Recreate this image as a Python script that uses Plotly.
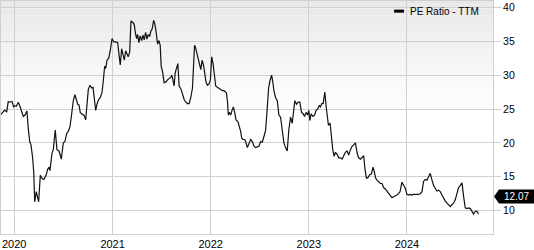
import plotly.graph_objects as go
from datetime import datetime, timedelta
import calendar

# ---- data (fractional year, PE ratio) ----
years_2019_2020 = [2019.865, 2019.882, 2019.899, 2019.923, 2019.939, 2019.957, 2019.977, 2019.994,
                   2020.007, 2020.021, 2020.041, 2020.058, 2020.076, 2020.092, 2020.109, 2020.129,
                   2020.143, 2020.157, 2020.170, 2020.187, 2020.198, 2020.208, 2020.224, 2020.248,
                   2020.265, 2020.285, 2020.302, 2020.323, 2020.340, 2020.353, 2020.363, 2020.373,
                   2020.384, 2020.397, 2020.417, 2020.434, 2020.455, 2020.478, 2020.499, 2020.516,
                   2020.533, 2020.549, 2020.567, 2020.584, 2020.600, 2020.617, 2020.631, 2020.645,
                   2020.658, 2020.671, 2020.692, 2020.709, 2020.726, 2020.739, 2020.753, 2020.770,
                   2020.787, 2020.801, 2020.814, 2020.828, 2020.841, 2020.858, 2020.875, 2020.892,
                   2020.905, 2020.919, 2020.930, 2020.943, 2020.960, 2020.976, 2020.994]
pe_2019_2020 = [24.2, 24.5, 24.8, 24.6, 26.1, 26.0, 26.1, 25.3,
                25.5, 25.4, 26.0, 25.4, 24.5, 23.9, 24.1, 24.7,
                22.1, 20.2, 19.7, 17.8, 15.7, 11.3, 12.8, 11.3,
                15.2, 14.7, 14.6, 15.2, 16.1, 16.4, 15.9, 17.1,
                18.5, 19.0, 21.9, 19.0, 18.8, 17.6, 20.0, 20.2,
                21.4, 21.7, 22.4, 24.3, 26.2, 27.1, 26.4, 25.7,
                25.6, 24.5, 24.2, 24.1, 23.4, 25.7, 27.9, 28.5,
                28.1, 28.2, 26.7, 24.8, 25.7, 26.4, 26.7, 27.4,
                29.1, 31.3, 31.0, 32.2, 32.5, 33.6, 35.4]

years_2021 = [2021.011, 2021.034, 2021.052, 2021.068, 2021.078, 2021.092, 2021.106, 2021.119,
              2021.133, 2021.146, 2021.159, 2021.174, 2021.187, 2021.204, 2021.220, 2021.235,
              2021.245, 2021.255, 2021.268, 2021.281, 2021.296, 2021.309, 2021.322, 2021.336,
              2021.350, 2021.363, 2021.377, 2021.390, 2021.403, 2021.418, 2021.431, 2021.444,
              2021.458, 2021.472, 2021.485, 2021.495, 2021.509, 2021.525, 2021.543, 2021.560,
              2021.576, 2021.594, 2021.604, 2021.617, 2021.627, 2021.637, 2021.652, 2021.665,
              2021.678, 2021.695, 2021.713, 2021.729, 2021.746, 2021.763, 2021.780, 2021.797,
              2021.814, 2021.824, 2021.835, 2021.845, 2021.858, 2021.871, 2021.885, 2021.899,
              2021.912, 2021.926, 2021.939, 2021.953, 2021.967, 2021.983, 2021.997]
pe_2021 = [34.9, 34.9, 34.8, 32.7, 31.5, 33.9, 32.7, 32.2,
           33.6, 33.2, 32.7, 33.4, 38.0, 37.8, 37.5, 36.0,
           35.4, 36.0, 34.8, 35.8, 35.1, 35.9, 35.2, 36.3,
           35.3, 36.0, 35.7, 36.5, 36.8, 38.1, 37.5, 36.3,
           34.6, 35.1, 34.4, 31.3, 30.5, 28.9, 29.0, 29.3,
           29.5, 29.7, 30.0, 29.2, 28.4, 30.3, 31.3, 31.7,
           28.4, 28.0, 27.2, 26.4, 26.0, 25.8, 25.8, 26.7,
           28.1, 30.3, 34.4, 34.1, 33.2, 32.4, 31.7, 30.8,
           32.2, 31.5, 30.3, 28.9, 28.5, 28.7, 29.3]

years_2022 = [2022.010, 2022.024, 2022.038, 2022.051, 2022.068, 2022.085, 2022.102, 2022.119,
              2022.136, 2022.160, 2022.170, 2022.180, 2022.190, 2022.204, 2022.217, 2022.231,
              2022.244, 2022.258, 2022.278, 2022.292, 2022.305, 2022.316, 2022.329, 2022.346,
              2022.356, 2022.373, 2022.390, 2022.407, 2022.424, 2022.441, 2022.458, 2022.475,
              2022.491, 2022.509, 2022.526, 2022.542, 2022.560, 2022.577, 2022.590, 2022.603,
              2022.621, 2022.634, 2022.644, 2022.661, 2022.679, 2022.695, 2022.712, 2022.729,
              2022.746, 2022.763, 2022.780, 2022.796, 2022.814, 2022.831, 2022.847, 2022.857,
              2022.875, 2022.892, 2022.908, 2022.926, 2022.943, 2022.956, 2022.973, 2022.987]
pe_2022 = [32.7, 31.7, 29.8, 28.4, 28.2, 28.0, 27.8, 27.7,
           27.7, 27.4, 26.2, 24.1, 24.5, 24.1, 24.8, 25.3,
           24.5, 23.4, 23.1, 22.4, 21.7, 20.7, 20.5, 20.5,
           20.2, 19.3, 20.0, 20.5, 20.2, 19.5, 19.3, 19.4,
           19.5, 20.2, 20.1, 20.9, 21.9, 25.3, 28.1, 29.1,
           30.0, 28.9, 27.7, 26.7, 26.2, 24.1, 23.8, 21.9,
           20.0, 19.3, 18.8, 21.9, 23.8, 22.9, 24.8, 26.2,
           25.7, 26.0, 26.0, 24.5, 24.3, 23.9, 24.5, 24.1]

years_2023 = [2023.000, 2023.010, 2023.024, 2023.041, 2023.058, 2023.075, 2023.091, 2023.106,
              2023.119, 2023.132, 2023.146, 2023.163, 2023.177, 2023.187, 2023.200, 2023.217,
              2023.231, 2023.244, 2023.258, 2023.271, 2023.289, 2023.305, 2023.322, 2023.339,
              2023.356, 2023.373, 2023.390, 2023.407, 2023.424, 2023.441, 2023.457, 2023.475,
              2023.492, 2023.508, 2023.526, 2023.543, 2023.559, 2023.573, 2023.587, 2023.604,
              2023.620, 2023.637, 2023.655, 2023.668, 2023.681, 2023.695, 2023.712, 2023.729,
              2023.746, 2023.762, 2023.780, 2023.797, 2023.813, 2023.831, 2023.848, 2023.864,
              2023.881, 2023.899, 2023.915, 2023.930, 2023.949, 2023.966, 2023.983]
pe_2023 = [24.8, 23.3, 24.3, 23.9, 24.1, 24.8, 25.0, 25.5,
           25.3, 25.8, 25.8, 27.5, 25.3, 23.6, 22.6, 22.9,
           20.5, 19.0, 18.0, 18.6, 18.3, 17.8, 17.8, 17.6,
           18.1, 18.6, 18.8, 18.2, 19.0, 19.5, 19.7, 20.0,
           18.5, 17.8, 17.6, 17.8, 18.1, 16.1, 14.8, 14.9,
           15.3, 15.4, 16.4, 15.7, 14.8, 14.5, 14.2, 14.0,
           14.0, 13.4, 13.2, 12.8, 12.5, 12.2, 11.9, 12.1,
           12.2, 12.3, 12.5, 12.8, 14.2, 13.8, 13.3]

years_2024 = [2024.000, 2024.017, 2024.034, 2024.051, 2024.067, 2024.085, 2024.102, 2024.118,
              2024.136, 2024.153, 2024.169, 2024.186, 2024.204, 2024.220, 2024.237, 2024.255,
              2024.271, 2024.288, 2024.305, 2024.322, 2024.339, 2024.356, 2024.373, 2024.390,
              2024.407, 2024.423, 2024.441, 2024.458, 2024.474, 2024.491, 2024.509, 2024.525,
              2024.542, 2024.560, 2024.576, 2024.593, 2024.610, 2024.627, 2024.644, 2024.661,
              2024.678, 2024.695, 2024.712, 2024.728]
pe_2024 = [12.4, 12.3, 12.4, 12.3, 12.4, 12.4, 12.3, 12.4,
           12.5, 12.8, 14.3, 14.6, 14.5, 14.9, 15.5, 14.5,
           13.7, 13.3, 12.9, 13.0, 12.8, 12.3, 11.8, 11.4,
           11.1, 10.9, 10.6, 10.9, 11.1, 11.6, 12.8, 13.4,
           13.7, 14.1, 12.1, 10.4, 10.3, 10.4, 10.3, 9.9,
           9.5, 9.9, 9.9, 9.5]

last_value_label = "12.07"
last_value = 12.07
series_name = "PE Ratio - TTM"
y_ticks = [10, 15, 20, 25, 30, 35, 40]
x_span = [2019.865, 2024.875]
y_span = [6.55, 40.94]


def frac_to_date(fy):
    y = int(fy)
    days = 366 if calendar.isleap(y) else 365
    return datetime(y, 1, 1) + timedelta(days=(fy - y) * days)


years = years_2019_2020 + years_2021 + years_2022 + years_2023 + years_2024
pe = pe_2019_2020 + pe_2021 + pe_2022 + pe_2023 + pe_2024
dates = [frac_to_date(v) for v in years]

FONT = "Liberation Sans, Arial, Helvetica, sans-serif"
GRID = "#cfcfcf"

fig = go.Figure()
fig.add_trace(go.Scatter(x=dates, y=pe, mode="lines", name=series_name,
                         line=dict(color="#111111", width=1.2), showlegend=False,
                         hoverinfo="skip"))

shapes = []
# light gray gradient at the top of the plot area
n = 30
g_top, g_bot = 1.0, 0.53
for i in range(n):
    y1 = g_top - (g_top - g_bot) * i / n
    y0 = g_top - (g_top - g_bot) * (i + 1) / n
    c = int(232 + (255 - 232) * (i + 0.5) / n)
    shapes.append(dict(type="rect", xref="paper", yref="paper", x0=0, x1=1, y0=y0, y1=y1,
                       fillcolor=f"rgb({c},{c},{c})", line=dict(width=0), layer="below"))
# legend swatch
shapes.append(dict(type="rect", xref="paper", yref="paper", x0=0.799, x1=0.819,
                   y0=0.950, y1=0.963, fillcolor="#000000", line=dict(width=0)))
# last value tag
shapes.append(dict(type="path", xref="paper", yref="y", xsizemode="pixel", ysizemode="pixel",
                   xanchor=1, yanchor=last_value,
                   path="M1,0 L6,7 L41,7 L41,-7 L6,-7 Z",
                   fillcolor="#000000", line=dict(width=0)))

fig.update_layout(
    width=534, height=250,
    margin=dict(l=0, r=41, t=1, b=10),
    paper_bgcolor="white", plot_bgcolor="white",
    font=dict(family=FONT, size=11, color="#000000"),
    shapes=shapes,
    annotations=[
        dict(text=series_name, xref="paper", yref="paper", x=0.828, y=0.954,
             xanchor="left", yanchor="middle", showarrow=False,
             font=dict(family=FONT, size=10, color="#000000")),
        dict(text=last_value_label, xref="paper", yref="y", x=1, y=last_value,
             xanchor="center", yanchor="middle", xshift=23, showarrow=False,
             font=dict(family=FONT, size=10, color="#ffffff")),
    ],
    xaxis=dict(type="date", range=[frac_to_date(x_span[0]), frac_to_date(x_span[1])],
               tick0="2020-01-01", dtick="M12", tickformat="%Y",
               showgrid=True, gridcolor=GRID, gridwidth=1,
               showline=True, linecolor=GRID, mirror=True,
               ticks="", tickfont=dict(size=11), zeroline=False),
    yaxis=dict(side="right", range=y_span, tickvals=y_ticks,
               showgrid=True, gridcolor=GRID, gridwidth=1,
               showline=True, linecolor=GRID, mirror=True,
               ticks="outside", ticklen=7, tickcolor=GRID,
               tickfont=dict(size=10.5), zeroline=False),
)

fig.write_html("out.html")
